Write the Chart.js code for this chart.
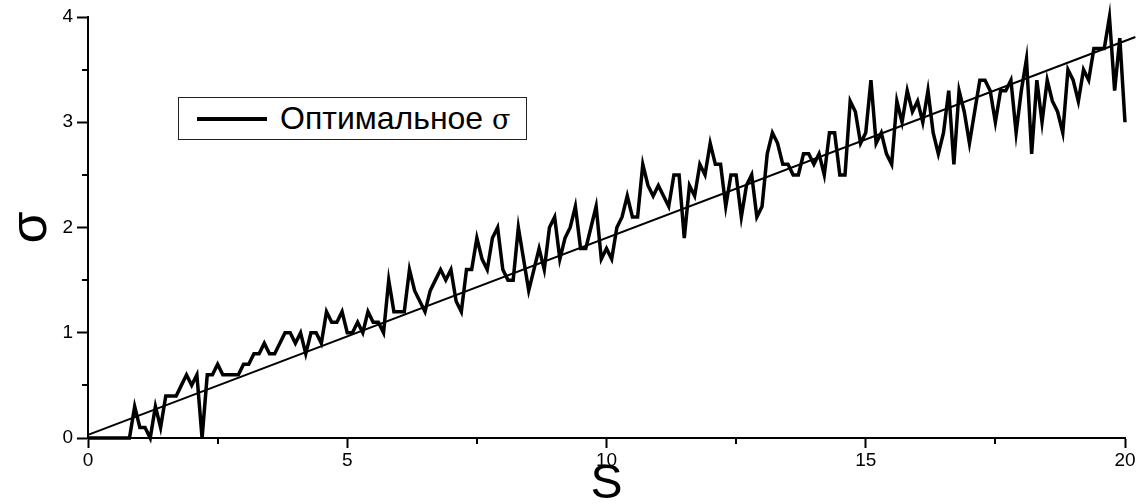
<!DOCTYPE html>
<html>
<head>
<meta charset="utf-8">
<script src="https://cdn.jsdelivr.net/npm/chart.js@4/dist/chart.umd.min.js"></script>
<style>
  html, body { margin: 0; padding: 0; background: #fff; }
  #wrap { position: relative; width: 1145px; height: 504px; }
  #legend {
    position: absolute; left: 178px; top: 97px; width: 349px; height: 43px;
    border: 1px solid #222; background: #fff; box-sizing: border-box;
    font-family: 'Liberation Sans', Arial, sans-serif; color: #000;
  }
  #legend .swatch { position: absolute; left: 18px; top: 19px; width: 70px; height: 4px; background: #000; }
  #legend .txt { position: absolute; left: 101px; top: 2px; font-size: 32px; line-height: 36px; white-space: nowrap; }
  #legend .sig { font-family: 'DejaVu Serif', serif; font-size: 27px; }
</style>
</head>
<body>
<div id="wrap">
  <canvas id="sigmaChart" width="1145" height="504"></canvas>
  <div id="legend"><span class="swatch"></span><span class="txt">Оптимальное <span class="sig">σ</span></span></div>
</div>
<script>
// шаг по S между точками ряда
const sStep = 0.1;

// оптимальное σ (S = 0 ... 20 с шагом 0.1)
const sigmaOpt = [
  0, 0, 0, 0, 0, 0, 0, 0, 0, 0.3,
  0.1, 0.1, 0.0, 0.3, 0.1, 0.4, 0.4, 0.4, 0.5, 0.6,
  0.5, 0.6, 0.0, 0.6, 0.6, 0.7, 0.6, 0.6, 0.6, 0.6,
  0.7, 0.7, 0.8, 0.8, 0.9, 0.8, 0.8, 0.9, 1.0, 1.0,
  0.9, 1.0, 0.8, 1.0, 1.0, 0.9, 1.2, 1.1, 1.1, 1.2,
  1.0, 1.0, 1.1, 1.0, 1.2, 1.1, 1.1, 1.0, 1.5, 1.2,
  1.2, 1.2, 1.6, 1.4, 1.3, 1.2, 1.4, 1.5, 1.6, 1.5,
  1.6, 1.3, 1.2, 1.6, 1.6, 1.9, 1.7, 1.6, 1.9, 2.0,
  1.6, 1.5, 1.5, 2.0, 1.7, 1.4, 1.6, 1.8, 1.6, 2.0,
  2.1, 1.7, 1.9, 2.0, 2.2, 1.8, 1.8, 2.0, 2.2, 1.7,
  1.8, 1.7, 2.0, 2.1, 2.3, 2.1, 2.1, 2.6, 2.4, 2.3,
  2.4, 2.3, 2.2, 2.5, 2.5, 1.9, 2.4, 2.3, 2.6, 2.5,
  2.8, 2.6, 2.6, 2.2, 2.5, 2.5, 2.1, 2.4, 2.5, 2.1,
  2.2, 2.7, 2.9, 2.8, 2.6, 2.6, 2.5, 2.5, 2.7, 2.7,
  2.6, 2.7, 2.5, 2.9, 2.9, 2.5, 2.5, 3.2, 3.1, 2.8,
  2.9, 3.4, 2.8, 2.9, 2.7, 2.6, 3.2, 3.0, 3.3, 3.1,
  3.2, 3.0, 3.3, 2.9, 2.7, 2.9, 3.3, 2.6, 3.3, 3.1,
  2.8, 3.1, 3.4, 3.4, 3.3, 3.0, 3.3, 3.3, 3.4, 2.9,
  3.3, 3.6, 2.7, 3.4, 3.0, 3.4, 3.2, 3.1, 2.9, 3.5,
  3.4, 3.2, 3.5, 3.4, 3.7, 3.7, 3.7, 4.0, 3.3, 3.8,
  3.0
];

// прямая (аппроксимация)
const fitS = [0, 20.2];
const fitSigma = [0.03, 3.81];

// подписи осей
const xTicks = [0, 5, 10, 15, 20];
const yTicks = [0, 1, 2, 3, 4];
const xMinor = [2.5, 7.5, 12.5, 17.5];
const yMinor = [0.5, 1.5, 2.5, 3.5];

const optPoints = sigmaOpt.map((v, i) => ({ x: Math.round(i * sStep * 10) / 10, y: v }));
const fitPoints = fitS.map((s, i) => ({ x: s, y: fitSigma[i] }));

const FONT = "'Liberation Sans', Arial, sans-serif";

// малые засечки на осях
const minorTicks = {
  id: 'minorTicks',
  afterDraw(chart) {
    const { ctx, scales: { x, y } } = chart;
    ctx.save();
    ctx.strokeStyle = '#000';
    ctx.lineWidth = 2;
    xMinor.forEach(v => {
      const px = Math.round(x.getPixelForValue(v));
      ctx.beginPath();
      ctx.moveTo(px, y.bottom);
      ctx.lineTo(px, y.bottom + 6);
      ctx.stroke();
    });
    yMinor.forEach(v => {
      const py = Math.round(y.getPixelForValue(v));
      ctx.beginPath();
      ctx.moveTo(x.left, py);
      ctx.lineTo(x.left - 6, py);
      ctx.stroke();
    });
    ctx.restore();
  }
};

new Chart(document.getElementById('sigmaChart'), {
  type: 'line',
  data: {
    datasets: [
      {
        label: 'Оптимальное σ',
        data: optPoints,
        borderColor: '#000',
        borderWidth: 3.5,
        pointRadius: 0,
        tension: 0,
        clip: false
      },
      {
        label: 'fit',
        data: fitPoints,
        borderColor: '#000',
        borderWidth: 2,
        pointRadius: 0,
        tension: 0,
        clip: false
      }
    ]
  },
  options: {
    responsive: false,
    animation: false,
    layout: { padding: { top: 17, right: 20, left: 0, bottom: 0 } },
    plugins: { legend: { display: false }, tooltip: { enabled: false } },
    scales: {
      x: {
        type: 'linear',
        min: 0,
        max: 20,
        afterBuildTicks: s => { s.ticks = xTicks.map(v => ({ value: v })); },
        afterFit: s => { s.height = 66; },
        border: { color: '#000', width: 2 },
        grid: { drawOnChartArea: false, tickLength: 10, tickColor: '#000', tickWidth: 2 },
        ticks: { color: '#000', font: { family: FONT, size: 19 }, padding: 1, maxRotation: 0 },
        title: { display: true, text: 'S', color: '#000', font: { family: FONT, size: 48, lineHeight: 0.8 }, padding: 0 }
      },
      y: {
        min: 0,
        max: 4,
        afterBuildTicks: s => { s.ticks = yTicks.map(v => ({ value: v })); },
        afterFit: s => { s.width = 88; },
        border: { color: '#000', width: 2 },
        grid: { drawOnChartArea: false, tickLength: 11, tickColor: '#000', tickWidth: 2 },
        ticks: { color: '#000', font: { family: FONT, size: 19 }, padding: 4 },
        title: { display: true, text: 'σ', color: '#000', font: { family: FONT, size: 52, lineHeight: 1 }, padding: { top: 6 } }
      }
    }
  },
  plugins: [minorTicks]
});
</script>
</body>
</html>
